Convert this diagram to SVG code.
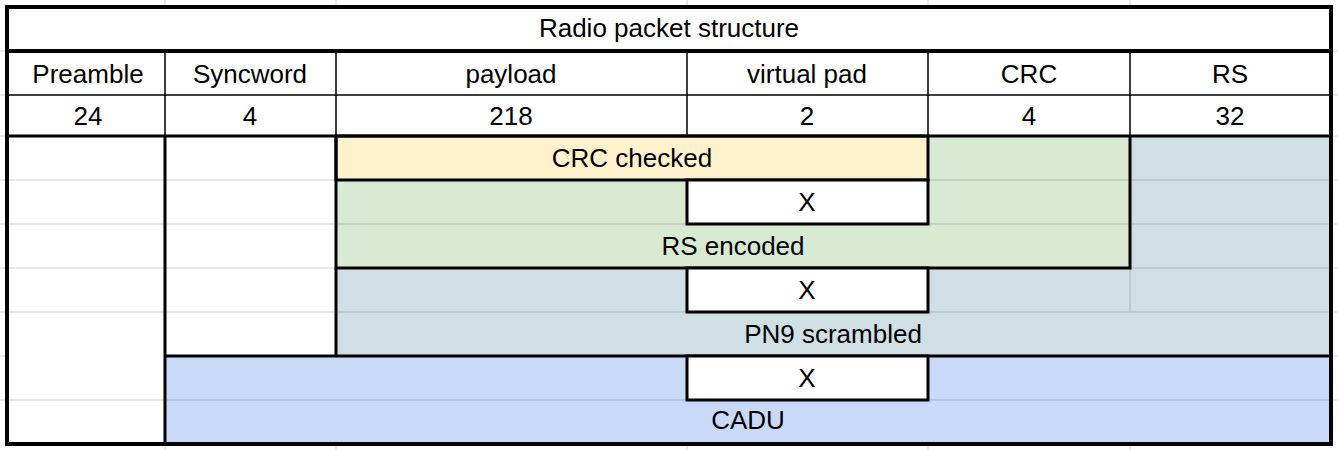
<svg xmlns="http://www.w3.org/2000/svg" width="1338" height="450" viewBox="0 0 1338 450">
<style>
text{font-family:"Liberation Sans",Arial,sans-serif;font-size:26px;fill:#000;text-anchor:middle}
.g{stroke:#000;stroke-opacity:0.12;stroke-width:1.5;fill:none}
.t{stroke:#000;stroke-width:3;fill:none}
.xb{stroke:#000;stroke-width:3;fill:#fff}
.n{stroke:#000;stroke-width:1.5;fill:none}
</style>
<rect width="1338" height="450" fill="#fff"/>
<g id="grid-outside" class="g">
<path d="M165 0V7M336 0V7M687 0V7M928 0V7M1130 0V7M165 444V450M336 444V450M687 444V450M928 444V450M1130 444V450M0 51H7M0 95H7M0 136H7M0 180H7M0 224H7M0 268H7M0 312H7M0 356H7M0 400H7M1331 51H1338M1331 95H1338M1331 136H1338M1331 180H1338M1331 224H1338M1331 268H1338M1331 312H1338M1331 356H1338M1331 400H1338"/>
</g>
<g id="fills">
<rect x="336" y="136" width="794" height="132" fill="#d9ead3"/>
<rect x="1130" y="136" width="201" height="132" fill="#d0dfe3"/>
<rect x="336" y="268" width="995" height="88" fill="#d0dfe3"/>
<rect x="165" y="356" width="1166" height="88" fill="#c9daf8"/>
<rect x="336" y="136" width="592" height="44" fill="#fff2cc"/>
</g>
<g id="grid-inside" class="g">
<path d="M7 180H336M928 180H1331M7 224H1331M7 268H1331M7 312H1331M7 400H1331M1130 268V312"/>
</g>
<g id="title"><rect x="7" y="7" width="1324" height="44" class="t"/><text x="669" y="37">Radio packet structure</text></g>
<g id="header">
<path class="n" d="M165 51V136M336 51V136M687 51V136M928 51V136M1130 51V136M7 95H1331"/>
<text x="88" y="83">Preamble</text><text x="250" y="83">Syncword</text><text x="511" y="83">payload</text><text x="807" y="83">virtual pad</text><text x="1029" y="83">CRC</text><text x="1230" y="83">RS</text>
<text x="88" y="125">24</text><text x="250" y="125">4</text><text x="511" y="125">218</text><text x="807" y="125">2</text><text x="1029" y="125">4</text><text x="1230" y="125">32</text>
</g>
<g id="crc-checked"><rect x="336" y="136" width="592" height="44" class="t"/><text x="632" y="167">CRC checked</text></g>
<g id="rs-encoded"><path class="t" d="M336 136V268H1130V136"/><text x="733" y="255">RS encoded</text></g>
<g id="x1"><rect x="687" y="180" width="241" height="44" class="xb"/><text x="807" y="211">X</text></g>
<g id="pn9"><path class="t" d="M165 356H1331M336 268V356"/><text x="833" y="343">PN9 scrambled</text></g>
<g id="x2"><rect x="687" y="268" width="241" height="44" class="xb"/><text x="807" y="299">X</text></g>
<g id="cadu"><path class="t" d="M165 136V444"/><text x="748" y="429">CADU</text></g>
<g id="x3"><rect x="687" y="356" width="241" height="44" class="xb"/><text x="807" y="387">X</text></g>
<g id="frame"><rect x="7" y="51" width="1324" height="393" class="t" style="stroke-width:4"/><rect x="7" y="7" width="1324" height="44" class="t" style="stroke-width:4"/><path class="t" d="M7 136H1331"/></g>
</svg>
